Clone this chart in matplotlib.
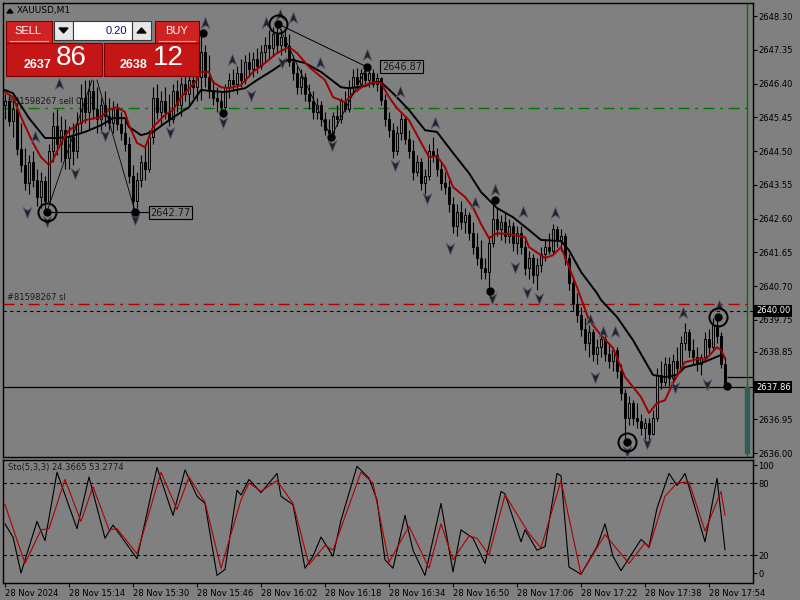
import matplotlib
matplotlib.use("Agg")
import matplotlib.pyplot as plt
from matplotlib.path import Path
from matplotlib.patches import Rectangle, Polygon

plt.rcParams['font.family'] = ['DejaVu Sans']

# XAUUSD M1, 28 Nov 2024, first bar 14:58
opens = [2645.80, 2645.90, 2645.35, 2645.70, 2644.55, 2644.10, 2643.60, 2644.20, 2643.70, 2643.20,
         2643.65, 2643.10, 2644.50, 2645.20, 2644.70, 2645.10, 2644.30, 2644.90, 2644.50, 2645.30,
         2646.00, 2645.60, 2646.20, 2645.70, 2645.40, 2645.80, 2645.50, 2645.30, 2645.70, 2645.25,
         2645.00, 2644.70, 2643.80, 2643.10, 2643.70, 2644.20, 2644.00, 2644.90, 2646.00, 2645.60,
         2645.90, 2645.60, 2645.40, 2646.20, 2645.80, 2646.40, 2646.10, 2646.50, 2646.30, 2646.60,
         2647.30, 2646.60, 2646.20, 2646.00, 2645.90, 2645.75, 2646.30, 2646.50, 2646.40, 2646.70,
         2646.50, 2647.00, 2646.80, 2647.10, 2646.90, 2647.30, 2647.50, 2647.40, 2647.80, 2647.50,
         2647.70, 2647.45, 2647.00, 2646.70, 2646.30, 2646.60, 2646.10, 2645.90, 2645.60, 2645.80,
         2645.40, 2645.10, 2645.00, 2645.50, 2645.40, 2645.90, 2645.70, 2646.30, 2646.60, 2646.40,
         2646.70, 2646.50, 2646.70, 2646.40, 2646.55, 2645.95, 2645.40, 2645.10, 2644.50, 2645.00,
         2645.40, 2644.85, 2644.50, 2643.90, 2644.20, 2643.60, 2643.80, 2644.50, 2644.40, 2644.00,
         2643.60, 2643.50, 2643.00, 2642.40, 2642.80, 2642.50, 2642.70, 2642.20, 2641.80, 2641.50,
         2641.20, 2641.10, 2641.90, 2642.60, 2642.30, 2642.50, 2642.10, 2642.40, 2641.90, 2642.20,
         2641.80, 2641.20, 2641.50, 2641.00, 2641.30, 2641.60, 2641.80, 2641.70, 2642.30, 2642.00,
         2642.10, 2641.50, 2640.80, 2640.20, 2639.90, 2639.50, 2639.10, 2639.40, 2638.80, 2639.00,
         2639.20, 2638.80, 2638.60, 2638.90, 2638.30, 2637.70, 2637.00, 2637.40, 2637.00, 2636.90,
         2636.70, 2636.85, 2636.55, 2637.00, 2638.20, 2638.00, 2638.50, 2638.10, 2638.60, 2638.40,
         2639.10, 2639.40, 2638.90, 2638.70, 2638.50, 2638.70, 2639.20, 2639.00, 2639.60, 2639.30,
         2638.50]
highs = [2646.10, 2646.05, 2645.95, 2645.85, 2645.30, 2644.60, 2644.40, 2644.50, 2644.00, 2643.90,
         2643.80, 2644.70, 2645.60, 2645.70, 2645.50, 2645.40, 2645.20, 2645.30, 2645.60, 2646.40,
         2646.50, 2646.50, 2646.50, 2646.30, 2646.00, 2646.20, 2646.00, 2645.90, 2645.85, 2645.60,
         2645.40, 2644.90, 2644.10, 2643.90, 2644.40, 2644.70, 2645.10, 2646.30, 2646.40, 2646.20,
         2646.30, 2646.10, 2646.40, 2646.50, 2646.60, 2646.80, 2646.70, 2646.90, 2646.80, 2647.82,
         2647.50, 2647.20, 2646.50, 2646.30, 2646.20, 2646.40, 2646.70, 2646.80, 2646.90, 2647.10,
         2647.20, 2647.30, 2647.30, 2647.40, 2647.50, 2647.70, 2647.90, 2648.00, 2648.08, 2647.95,
         2647.90, 2647.80, 2647.20, 2646.90, 2646.80, 2646.70, 2646.40, 2646.20, 2646.00, 2645.90,
         2645.60, 2645.40, 2645.60, 2645.80, 2646.00, 2646.20, 2646.50, 2646.80, 2646.85, 2646.80,
         2646.87, 2646.80, 2646.80, 2646.70, 2646.60, 2646.10, 2645.60, 2645.30, 2645.20, 2645.60,
         2645.50, 2645.10, 2644.80, 2644.40, 2644.30, 2644.00, 2644.70, 2644.90, 2644.60, 2644.20,
         2643.90, 2643.70, 2643.20, 2643.00, 2643.10, 2642.90, 2642.80, 2642.50, 2642.20, 2642.00,
         2641.50, 2642.10, 2643.12, 2642.90, 2642.70, 2642.80, 2642.60, 2642.50, 2642.40, 2642.40,
         2642.00, 2641.70, 2641.60, 2641.50, 2641.80, 2642.00, 2642.20, 2642.46, 2642.40, 2642.30,
         2642.20, 2641.60, 2640.90, 2640.50, 2640.10, 2639.80, 2639.60, 2639.50, 2639.20, 2639.40,
         2639.40, 2639.10, 2639.00, 2639.00, 2638.50, 2637.80, 2637.60, 2637.50, 2637.40, 2637.10,
         2637.00, 2637.00, 2637.20, 2638.40, 2638.60, 2638.70, 2638.70, 2638.80, 2639.00, 2639.30,
         2639.65, 2639.50, 2639.20, 2639.00, 2638.80, 2639.40, 2639.50, 2639.80, 2639.83, 2639.40,
         2638.70]
lows = [2645.40, 2645.20, 2644.90, 2644.40, 2643.90, 2643.40, 2643.30, 2643.50, 2642.95, 2642.90,
        2642.77, 2643.00, 2644.20, 2644.40, 2644.20, 2644.00, 2644.00, 2644.10, 2644.30, 2645.00,
        2645.30, 2645.10, 2645.40, 2645.00, 2645.00, 2645.20, 2645.10, 2645.00, 2645.10, 2644.80,
        2644.50, 2643.60, 2642.77, 2642.90, 2643.50, 2643.70, 2643.90, 2644.70, 2645.40, 2645.20,
        2645.40, 2645.20, 2645.30, 2645.60, 2645.50, 2645.90, 2645.80, 2646.00, 2645.90, 2645.95,
        2646.30, 2646.00, 2645.80, 2645.60, 2645.57, 2645.70, 2646.00, 2646.20, 2646.10, 2646.30,
        2646.40, 2646.60, 2646.60, 2646.70, 2646.80, 2647.00, 2647.10, 2647.20, 2647.30, 2647.20,
        2647.30, 2646.90, 2646.50, 2646.10, 2646.10, 2645.90, 2645.70, 2645.40, 2645.40, 2645.20,
        2644.95, 2644.90, 2644.95, 2645.20, 2645.30, 2645.60, 2645.60, 2646.10, 2646.20, 2646.30,
        2646.40, 2646.30, 2646.30, 2646.20, 2645.80, 2645.20, 2644.90, 2644.30, 2644.40, 2644.80,
        2644.70, 2644.30, 2643.70, 2643.80, 2643.40, 2643.30, 2643.70, 2644.20, 2643.80, 2643.40,
        2643.30, 2642.80, 2642.20, 2642.10, 2642.30, 2642.20, 2642.00, 2641.60, 2641.30, 2640.90,
        2640.90, 2640.56, 2641.80, 2642.10, 2642.00, 2641.90, 2641.90, 2641.70, 2641.60, 2641.60,
        2641.00, 2640.90, 2640.80, 2640.60, 2641.10, 2641.40, 2641.60, 2641.60, 2641.80, 2641.70,
        2641.30, 2640.60, 2640.00, 2639.70, 2639.30, 2638.90, 2638.70, 2638.60, 2638.50, 2638.70,
        2638.60, 2638.40, 2638.30, 2638.10, 2637.50, 2636.31, 2636.80, 2636.80, 2636.70, 2636.50,
        2636.40, 2636.22, 2636.50, 2636.90, 2637.80, 2637.90, 2637.90, 2638.00, 2638.20, 2638.30,
        2638.90, 2638.70, 2638.50, 2638.30, 2638.20, 2638.60, 2638.80, 2638.90, 2639.10, 2638.40,
        2637.86]
closes = [2645.90, 2645.35, 2645.70, 2644.55, 2644.10, 2643.60, 2644.20, 2643.70, 2643.20, 2643.65,
          2643.10, 2644.50, 2645.20, 2644.70, 2645.10, 2644.30, 2644.90, 2644.50, 2645.30, 2646.00,
          2645.60, 2646.20, 2645.70, 2645.40, 2645.80, 2645.50, 2645.30, 2645.70, 2645.25, 2645.00,
          2644.70, 2643.80, 2643.10, 2643.70, 2644.20, 2644.00, 2644.90, 2646.00, 2645.60, 2645.90,
          2645.60, 2645.40, 2646.20, 2645.80, 2646.40, 2646.10, 2646.50, 2646.30, 2646.60, 2647.30,
          2646.60, 2646.20, 2646.00, 2645.90, 2645.75, 2646.30, 2646.50, 2646.40, 2646.70, 2646.50,
          2647.00, 2646.80, 2647.10, 2646.90, 2647.30, 2647.50, 2647.40, 2647.80, 2647.50, 2647.70,
          2647.45, 2647.00, 2646.70, 2646.30, 2646.60, 2646.10, 2645.90, 2645.60, 2645.80, 2645.40,
          2645.10, 2645.00, 2645.50, 2645.40, 2645.90, 2645.70, 2646.30, 2646.60, 2646.40, 2646.70,
          2646.50, 2646.70, 2646.40, 2646.55, 2645.95, 2645.40, 2645.10, 2644.50, 2645.00, 2645.40,
          2644.85, 2644.50, 2643.90, 2644.20, 2643.60, 2643.80, 2644.50, 2644.40, 2644.00, 2643.60,
          2643.50, 2643.00, 2642.40, 2642.80, 2642.50, 2642.70, 2642.20, 2641.80, 2641.50, 2641.20,
          2641.10, 2641.90, 2642.60, 2642.30, 2642.50, 2642.10, 2642.40, 2641.90, 2642.20, 2641.80,
          2641.20, 2641.50, 2641.00, 2641.30, 2641.60, 2641.80, 2641.70, 2642.30, 2642.00, 2642.10,
          2641.50, 2640.80, 2640.20, 2639.90, 2639.50, 2639.10, 2639.40, 2638.80, 2639.00, 2639.20,
          2638.80, 2638.60, 2638.90, 2638.30, 2637.70, 2637.00, 2637.40, 2637.00, 2636.90, 2636.70,
          2636.85, 2636.55, 2637.00, 2638.20, 2638.00, 2638.50, 2638.10, 2638.60, 2638.40, 2639.10,
          2639.40, 2638.90, 2638.70, 2638.50, 2638.70, 2639.20, 2639.00, 2639.60, 2639.30, 2638.50,
          2637.86]

# moving averages (bar index, price)
ma_fast_x = [0, 2, 4, 7, 9, 11, 12, 14, 16, 20, 24, 26, 28, 30, 31, 33, 35, 37, 40, 42, 44, 48, 49,
             51, 52, 54, 56, 59, 62, 65, 68, 71, 73, 76, 80, 82, 85, 87, 90, 92, 94, 96, 98, 101,
             106, 108, 110, 112, 115, 117, 119, 121, 123, 126, 130, 131, 135, 137, 139, 140, 143,
             146, 149, 152, 155, 159, 161, 163, 165, 167, 170, 174, 175, 178, 179, 180]
ma_fast = [2646.16, 2646.02, 2645.46, 2644.73, 2644.33, 2644.11, 2644.25, 2644.73, 2645.09, 2645.37,
           2645.46, 2645.66, 2645.74, 2645.60, 2645.23, 2644.73, 2644.61, 2645.18, 2645.52, 2645.66,
           2646.02, 2646.50, 2646.73, 2646.73, 2646.44, 2646.30, 2646.27, 2646.36, 2646.73, 2646.98,
           2647.26, 2647.43, 2647.26, 2646.87, 2646.50, 2646.02, 2645.88, 2646.13, 2646.36, 2646.44,
           2646.42, 2646.02, 2645.71, 2645.37, 2644.33, 2644.36, 2644.05, 2643.49, 2643.21, 2642.92,
           2642.45, 2642.05, 2642.19, 2642.16, 2642.08, 2641.80, 2641.49, 2641.57, 2641.80, 2641.52,
           2640.67, 2639.74, 2639.32, 2638.96, 2638.14, 2637.58, 2637.13, 2637.41, 2637.49, 2637.97,
           2638.56, 2638.67, 2638.62, 2638.98, 2638.90, 2638.67]
ma_slow_x = [0, 2, 6, 10, 13, 16, 20, 24, 27, 30, 31, 34, 37, 40, 43, 46, 49, 52, 55, 60, 63, 67,
             71, 75, 79, 84, 86, 90, 92, 94, 97, 101, 105, 108, 112, 116, 119, 123, 127, 131, 134,
             139, 141, 144, 148, 149, 153, 157, 162, 165, 168, 170, 174, 176, 179, 180]
ma_slow = [2646.22, 2646.13, 2645.43, 2644.87, 2644.87, 2644.90, 2645.04, 2645.23, 2645.43, 2645.43,
           2645.18, 2644.95, 2645.04, 2645.29, 2645.52, 2645.74, 2646.22, 2646.19, 2646.16, 2646.27,
           2646.50, 2646.78, 2647.09, 2646.98, 2646.73, 2646.30, 2646.27, 2646.33, 2646.44, 2646.44,
           2646.13, 2645.66, 2645.09, 2645.04, 2644.45, 2643.88, 2643.35, 2642.90, 2642.64, 2642.28,
           2642.00, 2641.97, 2641.71, 2641.10, 2640.50, 2640.31, 2639.83, 2639.18, 2638.20, 2638.14,
           2638.20, 2638.42, 2638.53, 2638.62, 2638.76, 2638.67]

# fractal arrows
up_x = [7.5, 13.5, 50, 56.75, 65.25, 68.75, 72, 78.75, 90.5, 98.75, 107.5, 117.5, 122.5, 129.5,
        137.5, 146.25, 149.5, 152.5, 169.5, 178.5]
up_y = [2644.90, 2646.39, 2648.10, 2647.06, 2648.10, 2648.33, 2648.25, 2646.98, 2647.20, 2646.16,
        2645.29, 2643.04, 2643.40, 2642.78, 2642.76, 2639.74, 2639.41, 2639.41, 2639.94, 2640.14]
dn_x = [5.5, 10.5, 17.5, 25, 32.5, 41.25, 54.5, 61.5, 69.25, 81.75, 97.5, 105.5, 111.25, 121.75,
        127.5, 130.5, 133.5, 147.5, 155.5, 160.5, 167.5, 175.5]
dn_y = [2642.78, 2642.52, 2643.88, 2644.95, 2642.58, 2645.04, 2645.32, 2646.08, 2647.01, 2644.67,
        2644.11, 2643.18, 2641.77, 2640.36, 2641.24, 2640.53, 2640.36, 2638.14, 2636.05, 2636.28,
        2637.86, 2637.94]

# swing points
dot_x = [10.5, 32.5, 49.5, 54.5, 68.25, 81.5, 90.5, 121.25, 122.5, 155.5, 178.25, 180.5]
dot_y = [2642.80, 2642.80, 2647.82, 2645.57, 2648.08, 2644.90, 2646.87, 2640.56, 2643.12, 2636.31,
         2639.83, 2637.89]
ring_x = [10.5, 68.25, 155.5, 178.25]
ring_y = [2642.80, 2648.08, 2636.31, 2639.83]

# stochastic 5,3,3
sto_k_x = [0, 2, 4, 8, 10, 13, 18, 21, 25, 27, 33, 38, 42, 45, 48, 50, 53, 55, 58, 59, 61, 64, 68,
           69, 72, 75, 77, 79, 82, 84, 88, 91, 93, 95, 97, 100, 102, 105, 109, 112, 114, 117, 120,
           124, 125, 129, 130, 133, 135, 138, 139, 141, 144, 148, 150, 152, 154, 159, 161, 163, 166,
           168, 170, 175, 178, 180]
sto_k = [46, 35, 5, 48, 32, 89, 42, 85, 34, 45, 17, 93, 53, 91, 69, 63, 3, 8, 74, 70, 83, 72, 88,
         69, 62, 9, 19, 35, 19, 49, 94, 84, 66, 16, 9, 53, 24, 3, 63, 6, 41, 34, 13, 73, 71, 31, 41,
         24, 27, 88, 86, 10, 4, 27, 46, 19, 7, 33, 27, 59, 88, 78, 88, 31, 84, 24.37]
sto_d_x = [0, 5, 9, 11, 15, 19, 22, 26, 28, 33, 39, 43, 46, 50, 54, 59, 61, 64, 68, 72, 76, 80, 82,
           89, 92, 96, 101, 106, 109, 112, 116, 118, 121, 125, 131, 134, 139, 144, 150, 156, 160,
           161, 165, 168, 171, 175, 179, 180]
sto_d = [62, 13, 41, 42, 83, 48, 77, 41, 42, 21, 89, 58, 85, 64, 9, 66, 80, 73, 82, 63, 12, 28, 24,
         89, 80, 14, 44, 9, 46, 16, 36, 34, 20, 70, 38, 26, 82, 4, 37, 13, 30, 26, 69, 80, 81, 40,
         73, 53.28]

price_ticks = [2648.30, 2647.35, 2646.40, 2645.45, 2644.50, 2643.55, 2642.60, 2641.65, 2640.70,
               2639.75, 2638.85, 2636.95, 2636.00]
time_pos = [0, 16, 32, 48, 64, 80, 96, 112, 128, 144, 160, 176]
time_labels = ['28 Nov 2024', '28 Nov 15:14', '28 Nov 15:30', '28 Nov 15:46', '28 Nov 16:02',
               '28 Nov 16:18', '28 Nov 16:34', '28 Nov 16:50', '28 Nov 17:06', '28 Nov 17:22',
               '28 Nov 17:38', '28 Nov 17:54']

bg = '#808080'
fig = plt.figure(figsize=(8, 6), dpi=100, facecolor=bg)
ax = fig.add_axes([3 / 800, 143 / 600, 750 / 800, 454 / 600], facecolor=bg)
ax2 = fig.add_axes([3 / 800, 17 / 600, 750 / 800, 123 / 600], facecolor=bg)

# order / price lines
ax.axhline(2645.72, color='#007800', lw=1.0, ls=(0, (8, 4, 2, 4)), zorder=1)
ax.axhline(2640.21, color='#b00000', lw=1.0, ls=(0, (8, 4, 2, 4)), zorder=1)
ax.axhline(2640.00, color='black', lw=0.8, ls=(0, (3, 3)), zorder=1)
ax.axhline(2637.86, color='black', lw=0.9, zorder=1)
ax.hlines(2638.15, 180.5, 187, color='black', lw=0.9, zorder=1)
ax.text(0.5, 2645.82, '#81598267 sell 0.10', fontsize=6, color='#1a1a1a', zorder=1)
ax.text(0.5, 2640.30, '#81598267 sl', fontsize=6, color='#1a1a1a', zorder=1)
ax.axvline(185.5, color='#007800', lw=1.0, zorder=1)
ax.add_patch(Rectangle((185.0, 2636.0), 1.0, 1.86, color='#2f5d57', zorder=2))

# candles
xs = list(range(len(closes)))
ax.vlines(xs, lows, highs, color='black', lw=0.8, zorder=3)
bottoms = [min(o, c) for o, c in zip(opens, closes)]
heights = [max(abs(c - o), 0.02) for o, c in zip(opens, closes)]
fills = [bg if c >= o else 'black' for o, c in zip(opens, closes)]
ax.bar(xs, heights, bottom=bottoms, width=0.62, color=fills, edgecolor='black',
       linewidth=0.7, zorder=3.5)

# moving averages
ax.plot(ma_slow_x, ma_slow, color='black', lw=1.4, zorder=4)
ax.plot(ma_fast_x, ma_fast, color='#a00000', lw=1.4, zorder=4.2)

# zigzag and trend lines
ax.plot([10.5, 21.75], [2642.80, 2646.50], color='black', lw=0.6, zorder=4.5)
ax.plot([23, 32.5], [2646.50, 2642.80], color='black', lw=0.6, zorder=4.5)
ax.plot([68.25, 81.5, 90.5], [2648.08, 2644.90, 2646.87], color='black', lw=0.6, zorder=4.5)
ax.plot([68.25, 90.5], [2648.08, 2646.87], color='black', lw=0.7, zorder=4.5)
ax.plot([10.5, 36.2], [2642.80, 2642.80], color='black', lw=0.8, zorder=4.5)
box = dict(boxstyle='square,pad=0.15', fc=bg, ec='black', lw=0.8)
ax.text(36.3, 2642.77, '2642.77', fontsize=7, color='#1a1a1a', va='center', bbox=box, zorder=7)
ax.text(94.2, 2646.87, '2646.87', fontsize=7, color='#1a1a1a', va='center', bbox=box, zorder=7)

# fractal arrows
up_arrow = Path([(0, 1), (0.7, -0.8), (0, -0.3), (-0.7, -0.8), (0, 1)],
                [Path.MOVETO, Path.LINETO, Path.LINETO, Path.LINETO, Path.CLOSEPOLY])
dn_arrow = Path([(0, -1), (0.7, 0.8), (0, 0.3), (-0.7, 0.8), (0, -1)],
                [Path.MOVETO, Path.LINETO, Path.LINETO, Path.LINETO, Path.CLOSEPOLY])
ax.plot(up_x, up_y, ls='none', marker=up_arrow, ms=9, mfc='#222222', mec='#5a5a78', mew=0.6, zorder=6)
ax.plot(dn_x, dn_y, ls='none', marker=dn_arrow, ms=9, mfc='#222222', mec='#5a5a78', mew=0.6, zorder=6)

# swing dots
ax.plot(dot_x, dot_y, ls='none', marker='o', ms=5, color='black', zorder=6.5)
ax.plot(ring_x, ring_y, ls='none', marker='o', ms=13, mfc='none', mec='black', mew=1.4, zorder=6.5)

ax.set_xlim(-0.5, 187)
ax.set_ylim(2635.89, 2648.67)
ax.yaxis.tick_right()
ax.set_yticks(price_ticks)
ax.set_yticklabels(['%.2f' % p for p in price_ticks])
ax.tick_params(axis='y', length=3, width=0.8, pad=1, labelsize=6, colors='black')
ax.set_xticks([])
for s in ax.spines.values():
    s.set_color('black')
    s.set_linewidth(1)
tr = ax.get_yaxis_transform()
lbl = dict(boxstyle='square,pad=0.2', fc='black', ec='none')
ax.text(1.004, 2640.00, '2640.00', transform=tr, fontsize=6, color='white', va='center',
        bbox=lbl, clip_on=False, zorder=8)
ax.text(1.004, 2637.86, '2637.86', transform=tr, fontsize=6, color='white', va='center',
        bbox=lbl, clip_on=False, zorder=8)

# stochastic panel
ax2.axhline(80, color='black', lw=0.8, ls=(0, (3, 3)))
ax2.axhline(20, color='black', lw=0.8, ls=(0, (3, 3)))
ax2.plot(sto_k_x, sto_k, color='black', lw=0.8)
ax2.plot(sto_d_x, sto_d, color='#b00000', lw=0.8)
ax2.set_xlim(-0.5, 187)
ax2.set_ylim(-3.3, 99.2)
ax2.yaxis.tick_right()
ax2.set_yticks([5, 20, 80, 95])
ax2.set_yticklabels(['0', '20', '80', '100'])
ax2.tick_params(axis='y', length=3, width=0.8, pad=1, labelsize=6, colors='black')
ax2.set_xticks(time_pos)
ax2.set_xticklabels(time_labels, ha='left')
ax2.tick_params(axis='x', length=3, width=0.8, pad=1, labelsize=6, colors='black')
for s in ax2.spines.values():
    s.set_color('black')
    s.set_linewidth(1)
ax2.text(5 / 750, 0.94, 'Sto(5,3,3) 24.3665 53.2774', transform=ax2.transAxes, fontsize=6,
         color='#1a1a1a', va='center')

# header and one-click trading panel (pixel overlay)
ov = fig.add_axes([0, 0, 1, 1], zorder=10)
ov.set_xlim(0, 800)
ov.set_ylim(600, 0)
ov.axis('off')
ov.patch.set_alpha(0)
ov.add_patch(Polygon([(7, 13), (13, 13), (10, 9)], closed=True, color='black'))
ov.text(17, 10.5, 'XAUUSD,M1', fontsize=6.5, color='black', va='center')

red = '#d02222'
edge = '#7a0000'
ov.add_patch(Rectangle((6, 21), 46, 22, fc=red, ec=edge, lw=0.8))
ov.plot([10, 48], [40.5, 40.5], color='#f0a0a0', lw=0.8)
ov.text(28, 31, 'SELL', fontsize=8, color='white', ha='center', va='center', family='Liberation Sans')
ov.add_patch(Rectangle((155, 21), 44, 22, fc=red, ec=edge, lw=0.8))
ov.plot([159, 195], [40.5, 40.5], color='#f0a0a0', lw=0.8)
ov.text(177, 31, 'BUY', fontsize=8, color='white', ha='center', va='center', family='Liberation Sans')
ov.add_patch(Rectangle((54, 21), 19, 19, fc='#e6e6e6', ec='#3a3a3a', lw=0.8))
ov.add_patch(Polygon([(59, 28), (68, 28), (63.5, 33)], closed=True, color='black'))
ov.add_patch(Rectangle((73, 21), 59, 19, fc='white', ec='#3a3a3a', lw=0.8))
ov.text(127, 30.5, '0.20', fontsize=8, color='#10106a', ha='right', va='center', family='Liberation Sans')
ov.add_patch(Rectangle((132, 21), 19, 19, fc='#e6e6e6', ec='#3a3a3a', lw=0.8))
ov.add_patch(Polygon([(137, 33), (146, 33), (141.5, 28)], closed=True, color='black'))
ov.add_patch(Rectangle((6, 43), 96, 33, fc='#c41616', ec=edge, lw=0.8))
ov.add_patch(Rectangle((104, 43), 95, 33, fc='#c41616', ec=edge, lw=0.8))
ov.text(37, 65, '2637', fontsize=9, fontweight='bold', color='white', ha='center', va='center',
        family='Liberation Sans')
ov.text(71, 58, '86', fontsize=20, color='white', ha='center', va='center', family='Liberation Sans')
ov.text(134, 65, '2638', fontsize=9, fontweight='bold', color='white', ha='center', va='center',
        family='Liberation Sans')
ov.text(168, 58, '12', fontsize=20, color='white', ha='center', va='center', family='Liberation Sans')

fig.savefig('out.png', dpi=100, facecolor=bg)
